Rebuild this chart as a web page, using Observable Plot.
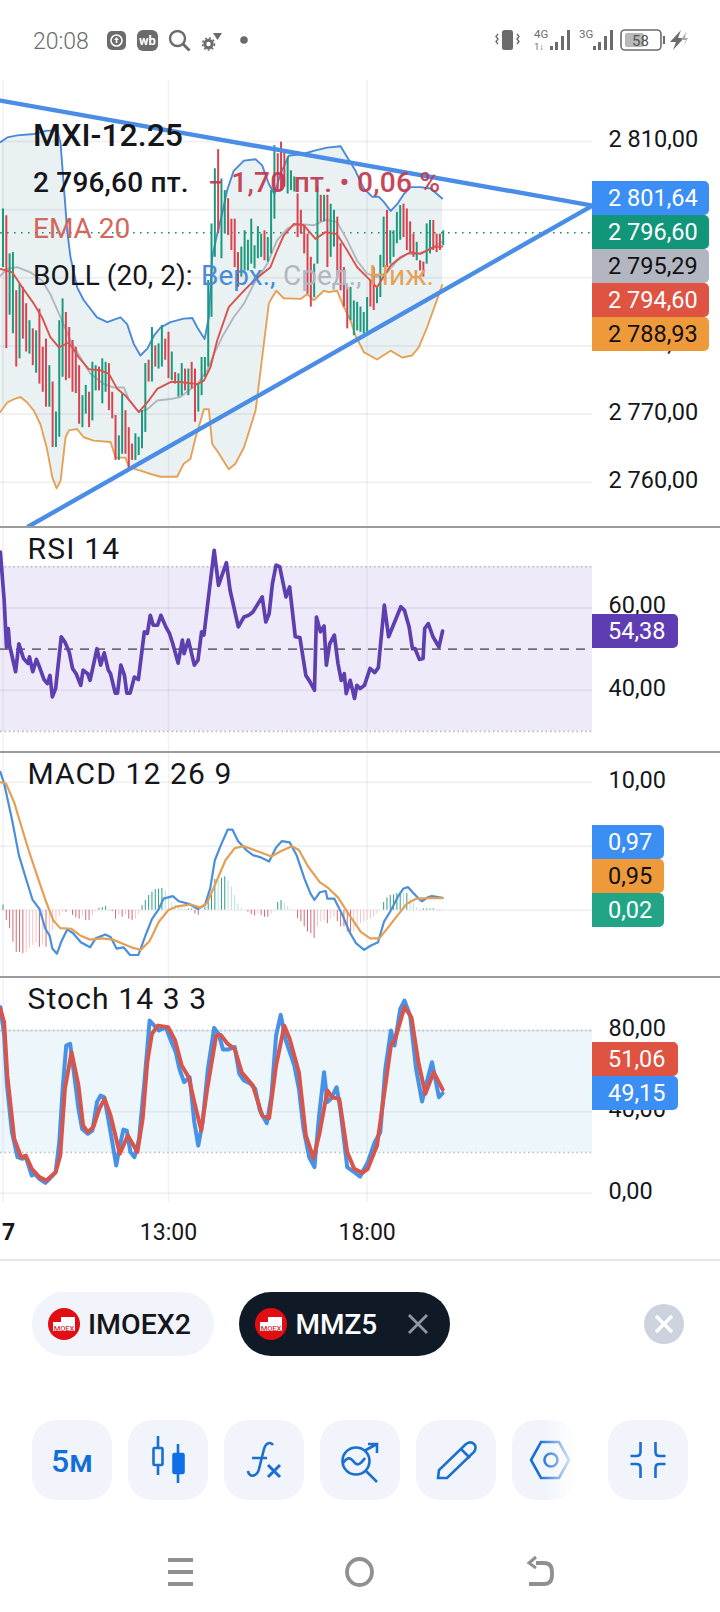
<!DOCTYPE html>
<html><head><meta charset="utf-8">
<script src="https://cdn.jsdelivr.net/npm/d3@7"></script>
<script src="https://cdn.jsdelivr.net/npm/@observablehq/plot@0.6"></script>
<style>
html,body{margin:0;padding:0;background:#fff}
#page{position:relative;width:720px;height:1612px;overflow:hidden;background:#fff;font-family:Roboto,sans-serif;color:#111}
.abs{position:absolute;white-space:pre;line-height:1}
.panel{position:absolute;left:0}
.div{position:absolute;left:0;width:720px;height:2px;background:#9b9b9b}
.badge{position:absolute;left:592px;height:34px;line-height:34px;padding-left:16px;box-sizing:border-box;font-size:23.5px;border-radius:0 5px 5px 0}
</style></head><body><div id="page"></div>
<script>
// ---- bars (5-minute candles, index 0 = leftmost) ----
const barHigh=[2800.1,2799.1,2793.5,2793.7,2788.1,2789.1,2788.6,2786.2,2783.7,2782.5,2782.2,2785.4,2779.8,2781.0,2777.1,2774.7,2770.3,2783.7,2786.9,2784.9,2782.7,2780.8,2779.8,2777.1,2772.7,2774.2,2773.2,2777.6,2777.1,2776.9,
2778.1,2777.6,2777.4,2773.2,2769.8,2766.8,2772.9,2770.5,2768.0,2765.6,2767.1,2766.6,2770.5,2777.4,2777.9,2782.7,2780.0,2780.3,2783.0,2781.0,2782.0,2779.1,2776.1,2775.9,2777.4,2776.6,2776.6,2777.6,2776.6,2774.4,
2778.3,2778.3,2789.6,2797.9,2806.0,2808.8,2804.5,2802.8,2801.6,2798.6,2798.6,2793.7,2794.5,2796.9,2795.5,2798.6,2794.7,2797.5,2796.4,2796.9,2795.9,2802.8,2809.4,2808.2,2809.9,
2808.4,2807.7,2805.7,2804.8,2802.3,2799.9,2797.7,2796.4,2793.0,2792.0,2803.3,2802.1,2802.1,2802.1,2800.8,2799.9,2798.9,2795.0,2791.5,2788.6,2788.6,2786.6,2786.4,2785.7,2784.9,2787.1,2789.6,2791.5,2788.6,2793.3,2798.9,2799.9,2796.9,2796.9,2799.6,2800.6,2800.8,2800.1,2798.2,2796.4,2795.2,2792.5,2792.3,2797.9,2798.4,2798.4,2796.4,2796.4,2796.9];
const barLow=[2791.5,2779.6,2784.5,2781.8,2776.9,2778.1,2781.0,2779.1,2778.8,2777.1,2776.0,2774.4,2773.2,2771.0,2771.0,2765.1,2765.1,2766.6,2775.4,2774.9,2775.2,2773.2,2773.0,2768.5,2768.0,2770.0,2768.0,2769.0,2773.4,2773.4,
2771.5,2773.2,2770.5,2769.3,2763.2,2763.2,2764.1,2764.1,2761.9,2763.2,2763.2,2763.9,2764.9,2767.3,2774.7,2774.7,2776.9,2776.6,2776.9,2777.9,2775.2,2774.9,2774.4,2772.5,2772.7,2773.4,2772.7,2773.7,2768.8,2770.3,
2772.7,2775.4,2776.9,2784.2,2793.0,2796.5,2792.8,2796.5,2796.2,2794.0,2791.5,2788.6,2790.1,2791.0,2791.0,2792.0,2791.3,2792.8,2793.0,2792.5,2792.3,2793.5,2798.6,2802.8,2802.8,
2803.3,2802.3,2802.8,2802.6,2795.9,2796.4,2793.5,2787.6,2785.7,2787.1,2792.0,2798.2,2798.2,2791.5,2793.0,2794.5,2790.1,2788.1,2785.7,2782.5,2783.7,2781.5,2782.2,2782.0,2781.8,2782.0,2785.7,2785.2,2786.2,2787.1,2791.5,2791.5,2792.0,2793.0,2795.0,2795.5,2795.9,2794.0,2793.5,2793.0,2792.5,2791.0,2790.1,2792.0,2793.5,2794.0,2793.7,2794.0,2794.7];
const barUp=[1,0,1,1,0,1,0,0,1,0,1,0,0,0,1,0,1,1,1,0,0,0,0,0,1,1,0,1,1,0,
1,1,0,0,0,1,1,0,0,0,1,1,1,1,0,1,0,1,1,0,0,1,0,1,1,0,1,0,0,1,
1,1,1,1,1,0,1,1,0,0,0,0,1,1,1,1,1,1,1,0,1,1,1,0,0,
0,1,1,1,0,0,0,0,0,1,1,0,1,0,1,1,0,0,0,0,1,1,1,1,1,1,0,0,1,1,1,0,1,1,1,1,0,0,0,0,1,0,0,1,1,0,0,0,1];
const lastClose=2796.6;
// ---- Bollinger bands and EMA ----
const bbUpperX=[-0.8,1.3,4.3,9.3,13.3,16.4,17.4,18.4,19.4,20.4,22.4,24.4,28.4,31.5,35.5,37.5,39.5,41.5,43.6,45.6,47.6,50.6,54.6,57.2,58.7,60.9,62.2,63.2,64.7,66.2,67.7,69.7,72.8,76.3,78.3,80.3,82,83.8,86.3,90.9,94.4,97.9,102,104,106.5,109,111.5,113.5,115.1,117.1,119.1,121.1,123.1,126.1,129.2,132.7];
const bbUpper=[2809.9,2810.6,2810.9,2811.1,2811.6,2811.6,2809.7,2803.3,2796.9,2793,2788.6,2786.7,2784.2,2783.5,2784.2,2783.2,2780.3,2778.6,2779.6,2781.5,2782.7,2783.5,2784,2784.1,2782.7,2781,2784.2,2793,2796.4,2799.4,2802.8,2805.7,2807.2,2807.4,2806.5,2803.8,2802.3,2805.2,2807.9,2808.2,2808.7,2809.1,2809.3,2807.7,2805.7,2803.1,2801.9,2801.9,2801.1,2799.8,2800.8,2802.3,2803.3,2803.3,2803.1,2801.64];
const bbLowerX=[-0.8,1.3,3.3,5.3,7.3,9.3,11.3,13.3,14.9,16.2,17.4,18.9,19.9,22.4,24.4,27.4,32.5,34,37,38,41.5,44.6,47.6,52.6,54.6,56.6,58.2,59.7,60.7,62.2,63.2,64.7,68.2,70.2,72.8,76.3,78.3,80.3,81.3,82.6,84.8,89.9,91.9,93.9,96.9,98.4,100.9,103,105,106.5,109,113,117.1,120.6,123.6,125.6,128.1,130.7,132.7];
const bbLower=[2770.3,2771.7,2772.2,2772.5,2771.7,2770.5,2768.5,2764.9,2760.7,2759.1,2760.2,2766.6,2767.6,2767.8,2766.6,2766.1,2765.9,2763.6,2763.6,2762.2,2761.7,2761.2,2760.8,2760.8,2762.7,2763.4,2766.6,2769,2770.7,2770.7,2765.6,2764.6,2761.9,2762.7,2765.1,2770.5,2778.3,2786.2,2787.1,2788.1,2787,2786.9,2787.6,2786.7,2788.1,2787.9,2788.1,2785.7,2783.7,2781.5,2779.1,2778,2779.3,2778.3,2778.6,2779.8,2782.7,2786.2,2788.93];
const bbMidX=[-0.8,1.3,4.3,8.3,11.8,14.3,17.4,20.4,23.4,26.4,30.5,33.5,36.5,38,41,43.6,46.6,50.6,53.6,58.7,61.7,63.7,66.2,69.7,72.8,75.8,79.8,82.8,85.9,88.9,93.9,97.4,100.9,104,107,110,113,116.1,119.1,122.1,125.1,128.1,132.7];
const bbMid=[2790.3,2791.3,2791.55,2790.8,2789.6,2787.6,2784.2,2780.8,2778.3,2775.9,2774.4,2773.9,2773.9,2772.2,2770.3,2770.7,2772,2772.2,2772.5,2774.4,2776.4,2778.8,2781.3,2784.2,2786.2,2789.1,2792,2795.5,2797.2,2797.9,2797.7,2798.5,2798.2,2795.5,2792.5,2790.6,2790.1,2790.8,2792.5,2793.5,2793.5,2794,2795.29];
const emaX=[-0.8,2.8,5.8,9.3,11.8,14.3,16.9,19.9,22.9,25.9,29.5,32,34.5,37,41,43.6,46.6,50.6,53.6,58.7,60.7,62.7,64.7,68.2,71.8,75.8,80.8,82.8,84.8,87.9,90.9,94.4,97.4,100.9,104,107,110,113,117.1,120.1,123.1,126.1,130.2,132.7];
const ema=[2791.3,2790.8,2788.6,2786.2,2784.2,2781.3,2779.8,2780.5,2778.3,2776.6,2776.4,2775.9,2773.7,2772.7,2770.3,2771.7,2773.7,2774.7,2774.7,2774.4,2774.9,2776.9,2780.8,2785.7,2787.6,2789.6,2791.55,2794,2796.2,2797.9,2797.7,2795.7,2796.7,2796.4,2794,2791.55,2790.1,2788.6,2791.8,2793,2793.75,2793.5,2794.5,2794.6];
// ---- hand-drawn trend lines ----
const trendTopX=[-0.76,178.1], trendTop=[2816,2800.6];
const trendBotX=[7.7,178.1], trendBot=[2753.5,2800.6];
// ---- RSI ----
const rsiX=[-0.8,0.35,1.05,1.6,2,3.8,4.8,6.2,7.6,8,9,10.1,11,12.4,13.4,14.2,14.9,15.9,17.6,18.7,20,21,22.1,23.5,24.2,25.6,26.3,28.4,29.5,30.6,31.8,32.5,33.9,34.6,35.6,36.7,37.4,38.4,39.7,40.9,42.7,43.6,44.5,45.4,46.7,47.7,49.2,50.3,51.3,52.9,54.2,54.7,56,57.8,58.9,60,60.7,63.8,65.1,67.5,68.6,71.1,72.8,74.2,75.5,78.3,79.4,80.4,81.4,82.5,83.6,85.5,86.6,88.3,89.7,91.5,92.5,94.1,94.7,95.9,97,97.7,98.7,100.1,101.2,102.2,103.1,103.7,104.9,106.2,106.9,107.9,109.2,110.9,112.3,113.4,115.2,116.5,120.2,121.3,122.7,123.7,124.5,125.8,126.9,127.4,128.5,129.9,131.7,132.8];
const rsi=[73.6,61.9,50.5,55,50.9,44.5,51.3,47.7,46.5,48.1,44.5,47.5,45.7,42.6,41.6,43.6,38.4,40.4,53,51.7,49.3,45.3,44,41.2,44.9,44,42.4,50.1,46.1,49.1,44.9,44,39.3,39.3,46.1,43.6,39.3,39.3,43.2,42.6,54.2,53.8,58.2,55.8,55.8,58.2,55.4,53.8,51.3,46.6,52.2,48.9,52.2,46.1,47.3,54.2,53.4,74,65.5,71,64.3,55.4,57.8,58.2,59,62.7,56.6,58.6,65.9,70.4,70,62.7,65.1,53,52.8,43.6,42.4,40,57.8,54.2,55.6,46.1,51.3,53.4,46.5,42.4,44,39.2,42.4,38,41.2,40.4,41.2,45.3,44.3,45.5,60.7,53,60.3,59.4,55.4,50.1,50.1,47.5,47.7,55,56.2,53,50.5,54.38];
// ---- MACD ----
const macdX=[-0.8,0.35,2.7,4.8,6.9,8.95,11,12.8,14.1,14.9,16.3,17.7,19.4,21.2,23.5,26.3,28,30.9,32.5,34.3,36.4,38.4,40.9,43,45,47.1,48.5,51.3,53.1,56.1,58.9,61,62.6,64,65.8,67.9,69.3,71,73.5,75.5,77.6,80.4,82.5,84.3,86.6,88.7,91.1,92.9,94.1,95.7,97.5,98,100.1,102.6,104.7,106.7,109.1,110.9,113.3,115.1,117.2,119.2,121,122.4,124.1,125.8,126.6,128.3,129.6,132.8];
const macd=[10.8,9.9,7.1,4.3,2.5,0.8,0.1,-1.45,-2,-3,-3.4,-2.4,-1.5,-1.8,-2.5,-2.9,-2.2,-1.9,-2.1,-3,-2.9,-3.5,-3.5,-2,-0.7,0.1,0.9,1.1,0.7,0.5,0.1,0.4,1.7,3.9,5.06,6.3,6.3,5.4,4.7,4.3,4.15,3.8,4.9,5.4,5.3,4.3,2.45,1.3,0.8,1.4,1.5,0.9,0.9,-0.4,-1.7,-2.6,-3.1,-2.8,-2.5,-0.9,0,1,1.7,1.8,1.3,0.85,0.7,1,1.1,0.97];
const signalX=[-0.8,0.9,3.4,5.5,7.6,10.3,13.1,15.2,17.3,20.7,23.5,26.3,29.8,33.2,36,38.8,41.6,44.3,47.1,49.9,52.6,56.8,59.6,61.7,64.4,67.2,70,72.8,76.9,81.1,83.9,87.3,89.4,92.2,95.7,98.4,101.2,104.7,108.1,110.9,113.7,116.5,119.2,122,124.8,128.9,132.8];
const signal=[10,9.9,8.4,6.6,4.8,2.7,0.6,-0.8,-1.4,-1.45,-2,-2.3,-2.2,-2.3,-2.6,-2.9,-3.1,-2.4,-0.9,0,0.3,0.45,0.2,0.6,2.2,3.9,4.85,5,4.6,4.2,4.6,5,4.7,3.4,2.2,1.7,1,-0.4,-1.7,-2.2,-2.2,-1.3,-0.4,0.5,0.9,0.95,0.95];
const hist=[0.4,-0.8,-1.45,-2.5,-3.3,-3.3,-3.4,-3.3,-3,-2.75,-2.6,-2.9,-2.75,-2.9,-2.2,-1.6,-0.9,-0.5,-0.15,-0.15,0,-0.4,-0.6,-0.7,-0.5,-0.8,-0.8,-0.4,-0.1,0.15,0.2,0.3,0.1,-0.1,-0.7,-0.4,-0.55,-0.35,-0.7,-0.8,-0.7,-0.3,0.35,0.75,1.15,1.4,1.6,1.65,1.7,1.5,0.9,0.6,0.4,0.3,0.15,0.1,0.1,0.1,-0.3,-0.4,0,0.2,0.9,1.5,2.4,2.3,2.5,2.6,2.3,1.8,1.15,0.5,0.15,0,-0.15,-0.35,-0.45,-0.3,-0.4,-0.55,-0.55,-0.3,-0.05,0.6,0.75,0.55,0.3,0.1,-0.05,-0.65,-0.9,-1.3,-1.7,-1.85,-2.2,-1.3,-0.9,-0.8,-1.05,-0.7,-0.55,-0.9,-1.3,-1.3,-1.7,-1.85,-1.7,-1.3,-1.05,-0.9,-0.8,-0.7,-0.55,-0.3,-0.05,0.6,0.95,1.15,1.2,1.3,1.4,1.3,1.3,0.9,0.55,0.2,-0.1,0.1,0.1,0.1,0.1,0.05,-0.05,0.02];
// ---- Stochastic ----
const kX=[-0.8,0.35,1.2,2.7,4.4,5.9,6.9,8.7,9.6,11,12.8,14.1,15.9,17,18.1,19.1,20.3,21.4,22.8,23.9,25.6,27,28.4,29.5,30.6,31.8,33.2,34.2,35.3,36.4,37.4,38.5,39.7,41.1,42.9,44.3,45.7,47.1,49.2,50.9,52.2,53.3,54.7,56.4,57.8,59,60.3,61.9,63.8,65.1,66.5,67.9,70,71.4,72.8,74.8,76.2,77.6,79.7,81.1,82.5,83.9,85.3,88,89.4,90.8,92.5,94.1,95.5,97,98,99.1,100.8,101.9,104,106.1,107.9,110.2,112.3,114,115.5,117.2,118.3,120,121.3,123,124.8,126.6,128,129.6,131.7,132.8];
const k=[91.5,77.5,53,30,17.7,16.9,17.7,8.7,9.5,7.1,5.1,7.1,10.3,25,53,72.6,73.4,59.5,41.5,31.6,29.2,30.8,44.8,48,47.2,36.6,23.4,13.6,23.4,31.3,30.8,20.2,17.7,26.7,57.9,84.9,82.4,80,81.6,74.3,69.3,61.1,54.6,57,34.9,23.4,34.9,61.1,81.3,78.4,70.6,70.6,71.8,58.7,55.4,53.8,51.3,40.7,34.4,48,77.5,87.7,75.9,62.8,51.3,31.6,17.7,12.8,38.2,59.5,44.8,46.4,52.1,41.5,12.8,10.3,8.2,15.3,25.1,30,61.1,80,72.6,90.6,94.7,87.4,61.1,45.1,54.6,64.4,47.2,49.15];
const dX=[-0.8,0.35,1.3,3.4,5.5,6.9,8.7,11,13.1,15.9,17.3,18.7,20.7,22.8,24.2,25.6,27.3,29.1,30.7,32.5,35.3,37.7,40.6,42.2,43.6,45,46.8,49.9,52,54,56.1,57.8,59.9,61.7,64.4,65.8,67.9,70,72.1,75.5,78.3,80.4,82.5,85,86.6,89.4,91.5,93.8,95.7,98,99.4,101.6,104,106.1,108.6,110.2,113,115.1,117.2,118.5,121.3,123.4,125.5,127.6,130.1,132.8];
const d=[90.6,84,57.9,26.7,17.7,18.5,12,7.9,6.2,10.3,18.5,51.3,69.3,53,33.3,30,32.5,41.5,46.4,38.2,19.4,28.4,20.2,36.6,64.4,78.4,82.4,81.6,75.1,62.8,57,44.8,30.8,51.3,77.5,77.8,73.4,71,59.5,52.9,38.2,36.9,62.8,82.4,75.9,59.5,28.4,17.2,30,50.5,47.2,46.4,20.2,12,10,12,23.4,48,72.6,75.9,91.5,86.5,64.4,48.9,59.5,51.06];
// ---- axes ----
const priceGrid=[2810,2800,2790,2780,2770,2760], priceLabels=[2810,2780,2770,2760];
const rsiTicks=[60,40];
const macdGrid=[10,5,0], macdLabels=[10];
const stochTicks=[80,40,0];
const xTickIndex=[50,110], xTickLabels=["13:00","18:00"];
const dayTickIndex=[0], dayTickLabels=["7"];
// ---- texts ----
const symbol="MXI-12.25", priceText="2 796,60 пт.", changeText="− 1,70 пт. • 0,06 %";
const chips=["IMOEX2","MMZ5"];

const C={up:"#1b9a7d",down:"#d8434f",grid:"rgba(60,60,90,.07)",blue:"#3d8ef0",purple:"#5e3fb0",orange:"#e39a4a",red:"#d9534a",gray:"#b3b6c0"};
const barIdx=barHigh.map((_,i)=>i);
const page=document.getElementById("page");
const fmt=d3.formatLocale({decimal:",",thousands:" ",grouping:[3],currency:["",""]}).format(",.2f");
const xScale={domain:[-0.755,178.1],range:[0,592],axis:null};
const pageLine=(xs,ys,o)=>Plot.line(xs,{x:xs,y:ys,strokeLinejoin:"round",strokeLinecap:"round",...o});
const grids=(ticks)=>[
  Plot.gridX(xTickIndex.concat(dayTickIndex),{stroke:C.grid,strokeOpacity:1,strokeWidth:1.5}),
  Plot.gridY(ticks,{stroke:C.grid,strokeOpacity:1,strokeWidth:2})
];
const axis=(ticks)=>Plot.axisY(ticks,{anchor:"right",tickSize:0,tickPadding:16,fontSize:23.5,label:null,tickFormat:fmt,fill:"#15171c",textAnchor:"start",dy:-2});
function panel(top,height,y,marks,marginBottom=0){
  const svg=Plot.plot({width:720,height,marginLeft:0,marginRight:128,marginTop:0,marginBottom,
    x:xScale,y:{...y,axis:null},style:{fontFamily:"Roboto",background:"transparent"},marks});
  svg.classList.add("panel");svg.style.top=top+"px";svg.style.left="0";svg.style.position="absolute";
  page.append(svg);
}
// price panel
const bandX=bbUpperX.concat(bbLowerX.slice().reverse()), bandY=bbUpper.concat(bbLower.slice().reverse());
panel(80,446,{domain:[2760,2810],range:[401.7,61]},[
  Plot.line(bandX,{x:bandX,y:bandY,fill:"#e9f1f3",stroke:"none"}),
  ...grids(priceGrid),axis(priceLabels),
  Plot.ruleY([lastClose],{stroke:"#1a8f6f",strokeDasharray:"1.6,5.4",strokeWidth:1.6}),
  pageLine(bbMidX,bbMid,{stroke:C.gray,strokeWidth:1.9}),
  pageLine(bbUpperX,bbUpper,{stroke:"#4a8ad6",strokeWidth:1.9}),
  pageLine(bbLowerX,bbLower,{stroke:"#e5a257",strokeWidth:1.9}),
  Plot.ruleX(barIdx,{x:d=>d,y1:i=>barLow[i],y2:i=>barHigh[i],stroke:i=>barUp[i]?C.up:C.down,strokeWidth:2}),
  pageLine(emaX,ema,{stroke:C.red,strokeWidth:1.9}),
  pageLine(trendTopX,trendTop,{stroke:"#4a8de6",strokeWidth:4.4}),
  pageLine(trendBotX,trendBot,{stroke:"#4a8de6",strokeWidth:4.4})
]);
// RSI panel
panel(528,224,{domain:[30,70],range:[202.9,38.3]},[
  Plot.rect([0],{y1:30,y2:70,fill:"#efeafa"}),
  ...grids(rsiTicks),axis(rsiTicks),
  Plot.ruleY([70,30],{stroke:"#b9b9c0",strokeDasharray:"1.6,2.8",strokeWidth:1.6}),
  Plot.ruleY([50],{stroke:"#6f6d78",strokeDasharray:"9,7",strokeWidth:1.6}),
  pageLine(rsiX,rsi,{stroke:C.purple,strokeWidth:3.7})
]);
// MACD panel
const histTone=hist.map((v,i)=>{
  const grow=i===0||Math.abs(v)>=Math.abs(hist[i-1]);
  return v>=0?(grow?"#2d9e84":"#b7e0d6"):(grow?"#d66a73":"#f2c4c8");
});
panel(753,224,{domain:[0,10],range:[156.7,28.7]},[
  ...grids(macdGrid),axis(macdLabels),
  Plot.ruleX(barIdx,{x:d=>d,y1:0,y2:i=>hist[i],stroke:i=>histTone[i],strokeWidth:1}),
  pageLine(macdX,macd,{stroke:"#4a8fdb",strokeWidth:2.2}),
  pageLine(signalX,signal,{stroke:"#e59f55",strokeWidth:2.2})
]);
// Stochastic panel
panel(978,282,{domain:[0,80],range:[214.7,52]},[
  Plot.rect([0],{y1:20,y2:80,fill:"#edf7fb"}),
  ...grids(stochTicks),axis(stochTicks),
  Plot.ruleY([80,20],{stroke:"#b8c0c4",strokeDasharray:"1.6,2.8",strokeWidth:1.6}),
  pageLine(kX,k,{stroke:"#4791e6",strokeWidth:4}),
  pageLine(dX,d,{stroke:"#d6564e",strokeWidth:4}),
  Plot.axisX(xTickIndex,{anchor:"bottom",tickSize:0,tickPadding:21,fontSize:23,label:null,tickFormat:(v)=>xTickLabels[xTickIndex.indexOf(v)],fill:"#15171c"}),
  Plot.axisX(dayTickIndex,{anchor:"bottom",tickSize:0,tickPadding:21,fontSize:23,fontWeight:700,dx:5.5,label:null,tickFormat:(v)=>dayTickLabels[dayTickIndex.indexOf(v)],fill:"#15171c"})
],58);

const text=(s,x,cy,size,color,extra="")=>{
  const e=document.createElement("div");e.className="abs";e.textContent=s;
  e.style.cssText=`left:${x}px;top:${cy-size/2}px;font-size:${size}px;color:${color};${extra}`;page.append(e);return e;};
const badge=(s,top,w,bg,color)=>{
  const e=document.createElement("div");e.className="badge";e.textContent=s;
  e.style.cssText=`top:${top}px;width:${w}px;background:${bg};color:${color}`;page.append(e);};
// dividers
[526,751,976].forEach(t=>{const e=document.createElement("div");e.className="div";e.style.top=t+"px";page.append(e);});
{const e=document.createElement("div");e.className="div";e.style.top="1259px";e.style.background="#e6e6e8";e.style.height="1.5px";page.append(e);}
// legends
text(symbol,33,135,32,"#14161b","font-weight:500");
text(priceText,33,183,28,"#14161b","font-weight:500;letter-spacing:.2px");
text(changeText,208,183,28,"#c23a50","font-weight:500;letter-spacing:.3px;opacity:.93");
text("EMA 20",33,229,28,"#d2675e");
text("BOLL (20, 2):",33,276,28,"#14161b");
text("Верх.,",201,276,28,"#4a8ad6");
text("Сред.,",283,276,28,"#b3b6c0");
text("Ниж.",369,276,28,"#e5a257");
text("RSI 14",27.5,549,30,"#14161b","letter-spacing:1.2px");
text("MACD 12 26 9",27.5,774,30,"#14161b","letter-spacing:1.1px");
text("Stoch 14 3 3",27.5,999,30,"#14161b","letter-spacing:1.1px");
// value badges
badge("2 801,64",181,117,"#3b8ef3","#fff");
badge("2 796,60",215,117,"#12967a","#fff");
badge("2 795,29",249,117,"#b3b6c0","#111");
badge("2 794,60",283,117,"#df5343","#fff");
badge("2 788,93",317,117,"#ef9a3a","#111");
badge("54,38",614,86,"#5e3db3","#fff");
badge("0,97",825,72,"#3b8ef3","#fff");
badge("0,95",859,72,"#ef9a3a","#111");
badge("0,02",893,72,"#21a586","#fff");
badge("51,06",1042,86,"#df5343","#fff");
badge("49,15",1076,86,"#3b8ef3","#fff");
// status bar text
text("20:08",33,41,23,"#6c6c6c","font-weight:300");
// bottom chips
const bottom=`
<svg xmlns="http://www.w3.org/2000/svg" width="720" height="1612" style="position:absolute;left:0;top:0;pointer-events:none" font-family="Roboto">
<defs><linearGradient id="fade" gradientUnits="userSpaceOnUse" x1="545" x2="576" y1="0" y2="0"><stop offset="0" stop-color="#f1f5fb"/><stop offset="1" stop-color="#fff"/></linearGradient>
<linearGradient id="fade2" gradientUnits="userSpaceOnUse" x1="540" x2="572" y1="0" y2="0"><stop offset="0" stop-color="#1a6fd0"/><stop offset="1" stop-color="#d7e6f6"/></linearGradient></defs>
<!-- status icons -->
<g fill="#6b6b6b" stroke="none">
<rect x="107" y="31" width="19" height="19" rx="5"/><circle cx="116.5" cy="40.5" r="5.5" fill="none" stroke="#fff" stroke-width="1.6"/><path d="M116.5 37l-2.4 3h1.6v3h1.6v-3h1.6z" fill="#fff"/>
<rect x="137" y="30" width="21" height="21" rx="6"/><text x="147.5" y="45" font-size="13" font-weight="700" fill="#fff" text-anchor="middle">wb</text>
<circle cx="177.5" cy="38.5" r="7.5" fill="none" stroke="#6b6b6b" stroke-width="2.4"/><path d="M183 44l6.5 6.5" stroke="#6b6b6b" stroke-width="2.8"/>
<circle cx="208.5" cy="44" r="3.7" fill="none" stroke="#6b6b6b" stroke-width="3"/><circle cx="208.5" cy="44" r="6" fill="none" stroke="#6b6b6b" stroke-width="1.6" stroke-dasharray="2 2"/><path d="M213 33h9l-4.5 7z"/>
<circle cx="244" cy="40" r="3.8"/>
<rect x="502" y="30" width="11" height="20" rx="2.5"/>
<path d="M498 34l-2 2.5 2 2.5-2 2.5 2 2.5M517 34l2 2.5-2 2.5 2 2.5-2 2.5" fill="none" stroke="#6b6b6b" stroke-width="1.4"/>
<text x="534" y="38" font-size="11.5">4G</text><text x="534" y="50" font-size="9.5">1↓</text>
<rect x="550" y="46" width="3" height="4"/><rect x="555" y="42" width="3" height="8"/><rect x="561" y="36" width="3" height="14"/><rect x="567" y="30" width="3" height="20"/>
<text x="579" y="38" font-size="11.5">3G</text>
<rect x="593" y="46" width="3" height="4"/><rect x="598" y="42" width="3" height="8"/><rect x="604" y="36" width="3" height="14"/><rect x="610" y="30" width="3" height="20"/>
<rect x="621" y="30" width="40" height="20" rx="4" fill="none" stroke="#6b6b6b" stroke-width="1.6"/><rect x="625" y="33" width="19" height="14" rx="2" fill="#b9b9b9"/>
<text x="640.5" y="46" font-size="15" text-anchor="middle" fill="#555">58</text><rect x="663" y="36" width="2" height="8"/>
<path d="M681 30l-11 12h6l-3 8 11-12h-6z"/><path d="M686 32l-5 8h5l-3 7 5-9h-3z" fill="#a8a8a8"/>
</g>
<!-- chips -->
<rect x="32" y="1292" width="182" height="64" rx="32" fill="#f1f4fa"/>
<rect x="239" y="1292" width="211" height="64" rx="32" fill="#0f1a26"/>
<g><circle cx="64" cy="1324" r="16" fill="#e30d14"/><path d="M53 1322h8v-5h14v14h-22z" fill="#fff"/><text x="64" y="1331" font-size="7.5" fill="#d0343a" text-anchor="middle" font-weight="500">MOEX</text></g>
<g><circle cx="271" cy="1324" r="16" fill="#e30d14"/><path d="M260 1322h8v-5h14v14h-22z" fill="#fff"/><text x="271" y="1331" font-size="7.5" fill="#d0343a" text-anchor="middle" font-weight="500">MOEX</text></g>
<text x="88" y="1334" font-size="28.5" font-weight="500" fill="#14161b">${chips[0]}</text>
<text x="295.500" y="1334" font-size="28" font-weight="500" fill="#fff">${chips[1]}</text>
<path d="M409 1315l18 18M427 1315l-18 18" stroke="#8d97a5" stroke-width="2.8"/>
<circle cx="664" cy="1324" r="20" fill="#cdd3de"/><path d="M656 1316l16 16M672 1316l-16 16" stroke="#fff" stroke-width="3.2"/>
<!-- toolbar -->
<g>
<rect x="32" y="1420" width="80" height="80" rx="24" fill="#f1f5fb"/>
<rect x="128" y="1420" width="80" height="80" rx="24" fill="#f1f5fb"/>
<rect x="224" y="1420" width="80" height="80" rx="24" fill="#f1f5fb"/>
<rect x="320" y="1420" width="80" height="80" rx="24" fill="#f1f5fb"/>
<rect x="416" y="1420" width="80" height="80" rx="24" fill="#f1f5fb"/>
<rect x="512" y="1420" width="64" height="80" rx="24" fill="url(#fade)"/>
<rect x="608" y="1420" width="80" height="80" rx="24" fill="#f1f5fb"/>
</g>
<text x="72" y="1472" font-size="32" font-weight="500" fill="#126fd6" text-anchor="middle">5м</text>
<g stroke="#1a6fd0" stroke-width="2.6" fill="none">
<path d="M158 1436v12M158 1465v10"/><rect x="153.500" y="1448" width="9" height="17" rx="1"/>
<path d="M178 1444v10M178 1473v10"/><rect x="173.500" y="1454" width="10" height="19" rx="1" fill="#0f6fe6" stroke="#0f6fe6"/>
<path d="M248 1471c1 7 9 6 11-2l5-20c2-7 7-7 9-4M252 1458h15"/>
<path d="M268 1465l12 12M280 1465l-12 12" stroke-width="3"/>
<circle cx="356" cy="1461" r="13.500"/><path d="M343 1463c5-7 8-5 11-1s6 3 11-4"/><path d="M366 1471l11 11M364 1451l13-7M368 1444h9v9"/>
<path d="M438 1478l1-8 27-26c3-2 6-2 8 0s2 5 0 8l-27 26z"/><path d="M461 1449l9 9"/>
<path d="M542 1442h18l10 18-10 18h-18l-10-18z" stroke="url(#fade2)" transform="translate(-1 0)"/><circle cx="551" cy="1460" r="6.500" stroke="url(#fade2)"/>
<path d="M640.500 1442v10q0 4-4 4h-6M655.500 1442v10q0 4 4 4h6M640.500 1478v-10q0-4-4-4h-6M655.500 1478v-10q0-4 4-4h6"/>
</g>
<!-- nav -->
<g stroke="#909090" fill="none">
<path d="M168 1560h25M168 1572h25M168 1584h25" stroke-width="4"/>
<ellipse cx="359.500" cy="1572" rx="12.500" ry="13" stroke-width="3.800"/>
<path d="M536 1563h8q8 0 8 9v3q0 9-8 9h-15" stroke-width="3.800"/><path d="M536 1557l-7 6 7 5" stroke-width="3"/>
</g>
</svg>`;
page.insertAdjacentHTML("beforeend",bottom);
</script></body></html>
